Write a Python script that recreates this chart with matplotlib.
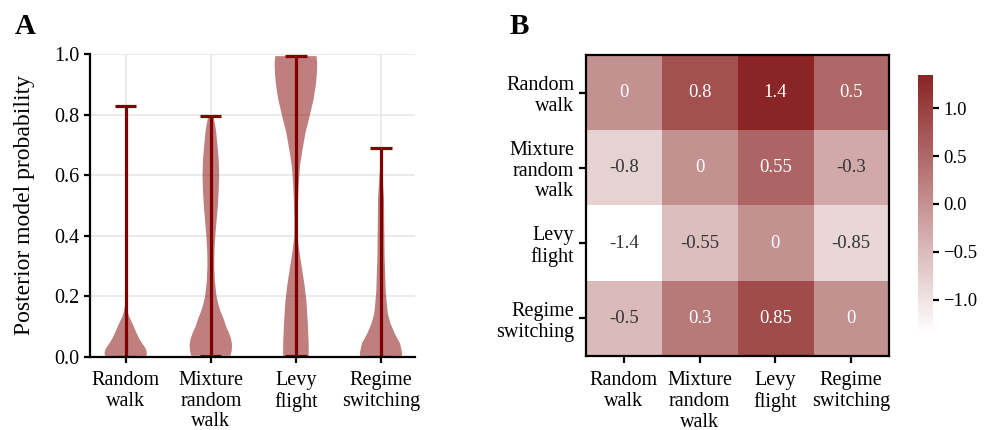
import numpy as np
import matplotlib
matplotlib.use("Agg")
import matplotlib.pyplot as plt
from matplotlib.colors import LinearSegmentedColormap

plt.rcParams['font.family'] = ['Liberation Serif', 'DejaVu Serif']
plt.rcParams['axes.unicode_minus'] = True

# models
models = ['Random\nwalk', 'Mixture\nrandom\nwalk', 'Levy\nflight', 'Regime\nswitching']

# violin profiles (y positions and relative density)
rw_y = [0.0, 0.01, 0.02, 0.03, 0.044, 0.06, 0.08, 0.10, 0.12, 0.135, 0.15, 0.165, 0.18, 0.25, 0.5, 0.83]
rw_d = [0.93, 1.0, 0.98, 0.92, 0.78, 0.64, 0.5, 0.38, 0.25, 0.15, 0.09, 0.05, 0.02, 0.008, 0.004, 0.003]

mrw_y = [0.004, 0.02, 0.04, 0.06, 0.08, 0.10, 0.126, 0.15, 0.172, 0.2, 0.25, 0.3, 0.35, 0.4, 0.45,
         0.5, 0.55, 0.6, 0.65, 0.7, 0.75, 0.795]
mrw_d = [0.92, 0.98, 1.0, 0.95, 0.85, 0.72, 0.6, 0.46, 0.36, 0.27, 0.19, 0.16, 0.17, 0.21, 0.27,
         0.33, 0.37, 0.39, 0.37, 0.31, 0.24, 0.12]

lf_y = [0.004, 0.044, 0.11, 0.18, 0.24, 0.29, 0.33, 0.37, 0.40, 0.46, 0.52, 0.57, 0.63, 0.68, 0.74,
        0.79, 0.85, 0.90, 0.94, 0.97, 0.993]
lf_d = [0.6, 0.6, 0.56, 0.5, 0.4, 0.29, 0.2, 0.12, 0.08, 0.08, 0.1, 0.13, 0.19, 0.3, 0.45,
        0.63, 0.83, 0.94, 0.99, 1.0, 0.97]

rs_y = [0.0, 0.011, 0.044, 0.077, 0.11, 0.143, 0.176, 0.22, 0.33, 0.44, 0.52, 0.57, 0.6, 0.63, 0.66, 0.69]
rs_d = [0.95, 1.0, 0.9, 0.65, 0.45, 0.32, 0.27, 0.22, 0.17, 0.15, 0.14, 0.1, 0.07, 0.03, 0.01, 0.005]

profiles = [(rw_y, rw_d), (mrw_y, mrw_d), (lf_y, lf_d), (rs_y, rs_d)]

# log Bayes factors between models
bf = np.array([
    [0.0, 0.8, 1.35, 0.5],
    [-0.8, 0.0, 0.55, -0.3],
    [-1.35, -0.55, 0.0, -0.85],
    [-0.5, 0.3, 0.85, 0.0],
])

red = '#800000'
tick_fs = 14.5

fig = plt.figure(figsize=(9.87, 4.3), dpi=100)

# ---- Panel A: violins
ax1 = fig.add_axes([0.0912, 0.1698, 0.3293, 0.7046])
stats = []
for ys, ds in profiles:
    stats.append(dict(coords=np.array(ys), vals=np.array(ds), mean=np.mean(ys),
                      median=np.median(ys), min=ys[0], max=ys[-1]))
vp = ax1.violin(stats, positions=range(4), widths=0.5, showmeans=False,
                showextrema=True, showmedians=False)
for b in vp['bodies']:
    b.set_facecolor(red)
    b.set_edgecolor('none')
    b.set_alpha(0.5)
for k in ['cbars', 'cmaxes', 'cmins']:
    vp[k].set_color(red)
    vp[k].set_linewidth(2.3)

ax1.set_xlim(-0.42, 3.4)
ax1.set_ylim(0, 1.0)
ax1.set_xticks(range(4))
ax1.set_xticklabels(models, fontsize=tick_fs, linespacing=1.12)
ax1.set_yticks([0, 0.2, 0.4, 0.6, 0.8, 1.0])
ax1.set_yticklabels(['0.0', '0.2', '0.4', '0.6', '0.8', '1.0'], fontsize=tick_fs)
ax1.set_ylabel('Posterior model probability', fontsize=17, labelpad=14)
ax1.grid(True, color='#e6e6e6', linewidth=1.1)
ax1.set_axisbelow(True)
for s in ['top', 'right']:
    ax1.spines[s].set_visible(False)
for s in ['left', 'bottom']:
    ax1.spines[s].set_linewidth(1.6)
ax1.tick_params(width=1.6, length=4)
ax1.tick_params(axis='x', pad=6)

# ---- Panel B: heatmap
cmap = LinearSegmentedColormap.from_list('wr', ['#ffffff', '#8b2424'])
ax2 = fig.add_axes([0.5937, 0.1721, 0.307, 0.70])
im = ax2.imshow(bf, cmap=cmap, vmin=-1.35, vmax=1.35, aspect='auto')
for i in range(4):
    for j in range(4):
        v = bf[i, j]
        ax2.text(j, i, format(v, '.2g'), ha='center', va='center', fontsize=13.5,
                 color='white' if v >= 0 else '#333333')
ax2.set_xticks(range(4))
ax2.set_xticklabels(models, fontsize=tick_fs, linespacing=1.12)
ax2.set_yticks(range(4))
ax2.set_yticklabels(models, fontsize=tick_fs, linespacing=1.12)
for s in ax2.spines.values():
    s.set_linewidth(1.6)
ax2.tick_params(width=1.6, length=5)
ax2.tick_params(axis='x', pad=6)

cax = fig.add_axes([0.930, 0.2256, 0.0152, 0.60])
cb = fig.colorbar(im, cax=cax)
cb.outline.set_visible(False)
cb.set_ticks([-1.0, -0.5, 0.0, 0.5, 1.0])
cb.ax.tick_params(labelsize=13.5, width=1.6, length=4)

fig.text(0.015, 0.922, 'A', fontsize=21, fontweight='bold')
fig.text(0.516, 0.922, 'B', fontsize=21, fontweight='bold')

fig.savefig('out.png', dpi=100)
